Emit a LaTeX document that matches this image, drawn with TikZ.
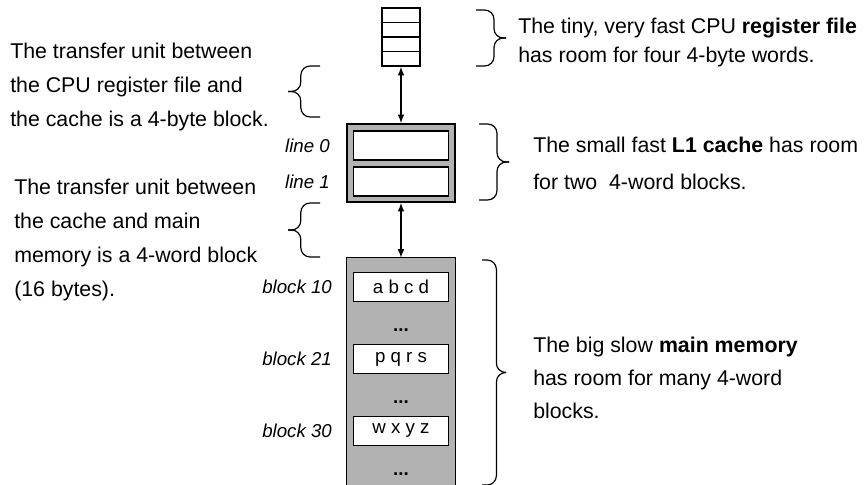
\documentclass[tikz,border=0pt]{standalone}
\usepackage{fontspec}
\setmainfont{Liberation Sans}
\usetikzlibrary{positioning}
\usetikzlibrary{arrows}
\definecolor{fillgray}{gray}{0.7}
\tikzset{cell/.style={draw, line width=1.3pt, minimum width=28.5pt, minimum height=10.9pt, inner sep=0pt}}
\tikzset{slot/.style={draw, line width=1.1pt, fill=white, minimum width=71.25pt, minimum height=22pt, inner sep=0pt, font=\fontsize{14}{16}\selectfont}}
\tikzset{lbl/.style={font=\fontsize{14}{16}\selectfont\itshape, inner sep=0pt}}
\tikzset{note/.style={align=left, anchor=west, inner sep=0pt, font=\fontsize{16}{#1}\selectfont}}
\tikzset{curly/.style={rounded corners=7pt, line width=0.9pt}}
\tikzset{link/.style={latex-latex, line width=1.2pt}}
% #1 x of the ends, #2 top y, #3 bottom y, #4 signed reach of the tip
\newcommand{\sidebrace}[4]{%
  \draw[curly] (#1,#2) -- ({#1+0.6*#4},#2) -- ({#1+0.6*#4},{(#2+#3)/2}) -- ({#1+#4},{(#2+#3)/2});
  \draw[curly] (#1,#3) -- ({#1+0.6*#4},#3) -- ({#1+0.6*#4},{(#2+#3)/2}) -- ({#1+#4},{(#2+#3)/2});
}

\begin{document}
\begin{tikzpicture}[x=0.75pt,y=-0.75pt]
    \useasboundingbox (0,0) rectangle (868,485);
    % register file
    \foreach \y/\lab in {15.25/r1, 29.75/r2, 44.25/r3, 58.75/r4} {
      \node[cell] (\lab) at (401, \y) {};
    }
    % cache
    \node[draw, fill=fillgray, line width=1.4pt, minimum width=81pt, minimum height=58.5pt] (cache) at (401, 163) {};
    \foreach \y/\lab/\tx in {
      145.5/c0/line 0,
      181.5/c1/line 1%
    } {
      \node[slot] (\lab) at (401, \y) {};
      \node[lbl, left=17pt of \lab] (n\lab) {\tx};
    }
    % main memory
    \node[fill=fillgray, minimum width=81pt, minimum height=170.25pt, inner sep=0pt] (mem) at (401, 371.5) {};
    \draw[line width=0.8pt] (mem.south west) -- (mem.north west) -- (mem.north east) -- (mem.south east);
    \foreach \y/\lab/\tx/\nm in {
      287/m10/a b c d/block 10,
      359/m21/p q r s/block 21,
      431/m30/w x y z/block 30%
    } {
      \node[slot] (\lab) at (401, \y) {\tx};
      \node[lbl, left=15.5pt of \lab] (n\lab) {\nm};
    }
    \foreach \y/\lab in {330/d1, 402/d2, 474/d3} {
      \node[font=\fontsize{14}{16}\selectfont\bfseries, inner sep=0pt] (\lab) at (401, \y) {...};
    }
    \draw[link] (r4.south) -- (cache.north);
    \draw[link] (cache.south) -- (mem.north);
    % braces
    \sidebrace{476}{10}{66}{30}
    \sidebrace{479}{124}{200}{30}
    \sidebrace{482}{260}{485}{24}
    \sidebrace{320}{66}{117}{-32}
    \sidebrace{320}{203}{257}{-32}
    % texts
    \node[note=21.75pt] (t1) at (518, 42.5) {The tiny, very fast CPU \textbf{register file}\\has room for four 4-byte words.};
    \node[note=27.75pt] (t2) at (533, 163.5) {The small fast \textbf{L1 cache} has room\\for two\ \ 4-word blocks.};
    \node[note=24.75pt] (t3) at (533, 378) {The big slow \textbf{main memory}\\has room for many 4-word\\blocks.};
    \node[note=25.5pt] (l1) at (10, 87) {The transfer unit between\\the CPU register file and\\the cache is a 4-byte block.};
    \node[note=25.5pt] (l2) at (14, 240) {The transfer unit between\\the cache and main\\memory is a 4-word block\\(16 bytes).};
  \end{tikzpicture}
\end{document}
